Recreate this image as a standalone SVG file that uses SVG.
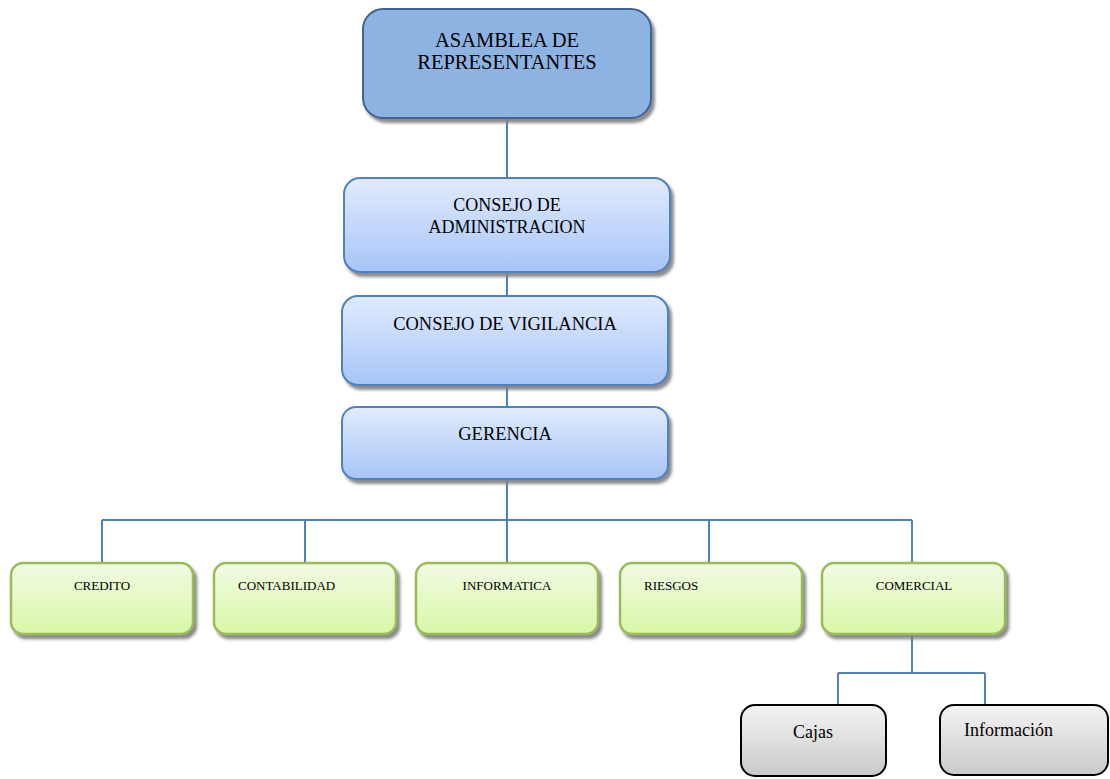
<svg xmlns="http://www.w3.org/2000/svg" width="1110" height="779" viewBox="0 0 1110 779">
<defs>
<linearGradient id="gBlue" x1="0" y1="0" x2="0" y2="1"><stop offset="0" stop-color="#e1ebfd"/><stop offset="1" stop-color="#a7c5f8"/></linearGradient>
<linearGradient id="gGreen" x1="0" y1="0" x2="0" y2="1"><stop offset="0" stop-color="#f2fbe4"/><stop offset="1" stop-color="#d8f7a6"/></linearGradient>
<linearGradient id="gGray" x1="0" y1="0" x2="0" y2="1"><stop offset="0" stop-color="#f4f4f4"/><stop offset="1" stop-color="#c9c9c9"/></linearGradient>
<filter id="sh" x="-10%" y="-10%" width="130%" height="140%"><feDropShadow dx="3" dy="4" stdDeviation="1.5" flood-color="#7f7f7f" flood-opacity="0.9"/></filter>
</defs>
<style>
text{font-family:"Liberation Serif","Times New Roman",serif;fill:#000}
.c{text-anchor:middle}
.top{fill:#8db3e2;stroke:#3f6490;stroke-width:2}
.blue{fill:url(#gBlue);stroke:#4f81bd;stroke-width:2}
.green{fill:url(#gGreen);stroke:#9bbb59;stroke-width:2.5}
.gray{fill:url(#gGray);stroke:#000;stroke-width:2}
.conn{fill:none;stroke:#4f81bd;stroke-width:2}
</style>
<rect width="1110" height="779" fill="#fff"/>
<g id="connectors">
<path class="conn" d="M507 118V178M507 272V296M507 385V407M507 479V520M102 520H912M102 520V563M305 520V563M507 520V563M709 520V563M912 520V563M912 634V673M838 673H985M838 673V705M985 673V705"/>
</g>
<g id="asamblea">
<rect class="top" x="363" y="9" width="288" height="109" rx="20" filter="url(#sh)"/>
<text class="c" x="507" y="47" font-size="20.5">ASAMBLEA DE</text>
<text class="c" x="507" y="69" font-size="20.5">REPRESENTANTES</text>
</g>
<g id="consejo-admin">
<rect class="blue" x="344" y="178" width="326" height="94" rx="16" filter="url(#sh)"/>
<text class="c" x="507" y="211" font-size="18">CONSEJO DE</text>
<text class="c" x="507" y="233" font-size="18">ADMINISTRACION</text>
</g>
<g id="consejo-vigilancia">
<rect class="blue" x="342" y="296" width="326" height="89" rx="16" filter="url(#sh)"/>
<text class="c" x="505" y="330" font-size="18.5">CONSEJO DE VIGILANCIA</text>
</g>
<g id="gerencia">
<rect class="blue" x="342" y="407" width="326" height="72" rx="14" filter="url(#sh)"/>
<text class="c" x="505" y="440" font-size="18.5">GERENCIA</text>
</g>
<g id="credito">
<rect class="green" x="11" y="563" width="182" height="71" rx="12" filter="url(#sh)"/>
<text class="c" x="102" y="590" font-size="13">CREDITO</text>
</g>
<g id="contabilidad">
<rect class="green" x="214" y="563" width="182" height="71" rx="12" filter="url(#sh)"/>
<text x="238" y="590" font-size="13">CONTABILIDAD</text>
</g>
<g id="informatica">
<rect class="green" x="416" y="563" width="182" height="71" rx="12" filter="url(#sh)"/>
<text class="c" x="507" y="590" font-size="13">INFORMATICA</text>
</g>
<g id="riesgos">
<rect class="green" x="620" y="563" width="182" height="71" rx="12" filter="url(#sh)"/>
<text x="644" y="590" font-size="13">RIESGOS</text>
</g>
<g id="comercial">
<rect class="green" x="822" y="563" width="183" height="71" rx="12" filter="url(#sh)"/>
<text class="c" x="914" y="590" font-size="13">COMERCIAL</text>
</g>
<g id="cajas">
<rect class="gray" x="741" y="705" width="145" height="71" rx="14"/>
<text class="c" x="813" y="738" font-size="18">Cajas</text>
</g>
<g id="informacion">
<rect class="gray" x="940" y="705" width="168" height="70" rx="14"/>
<text x="964" y="736" font-size="18">Información</text>
</g>
</svg>
